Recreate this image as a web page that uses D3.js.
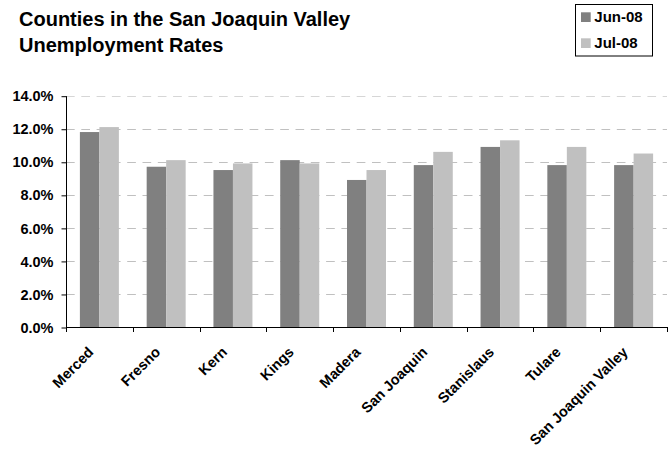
<!DOCTYPE html>
<html>
<head>
<meta charset="utf-8">
<script src="https://cdn.jsdelivr.net/npm/d3@7"></script>
<style>
  html, body { margin: 0; padding: 0; background: #fff; }
  svg { display: block; font-family: "Liberation Sans", Arial, sans-serif; font-weight: bold; }
</style>
</head>
<body>
<svg id="chart" width="672" height="450"></svg>
<script>
// Unemployment rates (%) by county, June and July 2008
const categories = ["Merced", "Fresno", "Kern", "Kings", "Madera", "San Joaquin", "Stanislaus", "Tulare", "San Joaquin Valley"];
const jun08 = [11.8, 9.7, 9.5, 10.1, 8.9, 9.8, 10.9, 9.8, 9.8];
const jul08 = [12.1, 10.1, 9.9, 9.9, 9.5, 10.6, 11.3, 10.9, 10.5];
const seriesNames = ["Jun-08", "Jul-08"];
const seriesColors = ["#808080", "#c0c0c0"];
const yTicks = [0, 2, 4, 6, 8, 10, 12, 14];
const titleLines = ["Counties in the San Joaquin Valley", "Unemployment Rates"];

const svg = d3.select("#chart");
const plot = { left: 66, right: 667, top: 95.7, bottom: 327 };

const x0 = d3.scaleBand()
  .domain(categories)
  .range([plot.left, plot.right])
  .paddingInner(0.416)
  .paddingOuter(0.208);
const x1 = d3.scaleBand()
  .domain(seriesNames)
  .range([0, x0.bandwidth()]);
const y = d3.scaleLinear().domain([0, 14]).range([plot.bottom, plot.top]);

// Title
svg.append("g").selectAll("text")
  .data(titleLines)
  .join("text")
  .attr("x", 19)
  .attr("y", (d, i) => 26 + i * 25.7)
  .attr("font-size", 20)
  .attr("fill", "#000")
  .text(d => d);

// Dashed horizontal gridlines
svg.append("g")
  .selectAll("line")
  .data(yTicks.filter(t => t > 0))
  .join("line")
  .attr("x1", plot.left)
  .attr("x2", plot.right)
  .attr("y1", d => Math.round(y(d)) + 0.5)
  .attr("y2", d => Math.round(y(d)) + 0.5)
  .attr("stroke", d => d === 14 ? "#d6d6d6" : "#c0c0c0")
  .attr("stroke-width", 1)
  .attr("stroke-dasharray", "8.7,6.6");

// Bars
const series = seriesNames.map((name, i) => ({ name, values: i === 0 ? jun08 : jul08, color: seriesColors[i] }));
const groups = svg.append("g")
  .selectAll("g")
  .data(categories)
  .join("g")
  .attr("transform", d => `translate(${x0(d)},0)`);
groups.selectAll("rect")
  .data((d, ci) => series.map(s => ({ name: s.name, value: s.values[ci], color: s.color })))
  .join("rect")
  .attr("x", d => x1(d.name))
  .attr("width", x1.bandwidth())
  .attr("y", d => y(d.value))
  .attr("height", d => y(0) - y(d.value))
  .attr("fill", d => d.color);

// Y axis
const yAxis = d3.axisLeft(y)
  .tickValues(yTicks)
  .tickSize(5)
  .tickPadding(8)
  .tickFormat(d => d.toFixed(1) + "%");
const yg = svg.append("g")
  .attr("transform", `translate(${plot.left + 0.5},0.5)`)
  .call(yAxis);
yg.select(".domain").attr("stroke", "#000").attr("d", `M0,${y(14)}V${y(0)}`);
yg.selectAll(".tick line").attr("stroke", "#000");
yg.selectAll(".tick text")
  .attr("font-family", "'Liberation Sans', Arial, sans-serif")
  .attr("font-weight", "bold")
  .attr("font-size", 14.5)
  .attr("fill", "#000");

// X axis: ticks at category boundaries
const step = x0.step();
const boundaries = categories.map(c => x0(c) - step * x0.paddingInner() / 2).concat([plot.right]);
const xg = svg.append("g");
xg.append("line")
  .attr("x1", plot.left)
  .attr("x2", plot.right)
  .attr("y1", y(0) + 0.5)
  .attr("y2", y(0) + 0.5)
  .attr("stroke", "#000");
xg.selectAll("line.tick")
  .data(boundaries)
  .join("line")
  .attr("class", "tick")
  .attr("x1", d => Math.round(d) + 0.5)
  .attr("x2", d => Math.round(d) + 0.5)
  .attr("y1", y(0))
  .attr("y2", y(0) + 5)
  .attr("stroke", "#000");

// Rotated category labels
xg.selectAll("text")
  .data(categories)
  .join("text")
  .attr("text-anchor", "end")
  .attr("font-size", 14.5)
  .attr("fill", "#000")
  .attr("transform", d => `translate(${x0(d) + x0.bandwidth() / 2 - 5},${y(0) + 26}) rotate(-45)`)
  .text(d => d);

// Legend
const legend = svg.append("g");
legend.append("rect")
  .attr("x", 575.5)
  .attr("y", 4.5)
  .attr("width", 77)
  .attr("height", 51.5)
  .attr("fill", "#fff")
  .attr("stroke", "#000");
const items = legend.selectAll("g.item")
  .data(series)
  .join("g")
  .attr("class", "item")
  .attr("transform", (d, i) => `translate(581,${12.3 + i * 26})`);
items.append("rect")
  .attr("width", 9.7)
  .attr("height", 9.7)
  .attr("fill", d => d.color);
items.append("text")
  .attr("x", 13.3)
  .attr("y", 9.5)
  .attr("font-size", 15)
  .attr("fill", "#000")
  .text(d => d.name);
</script>
</body>
</html>
